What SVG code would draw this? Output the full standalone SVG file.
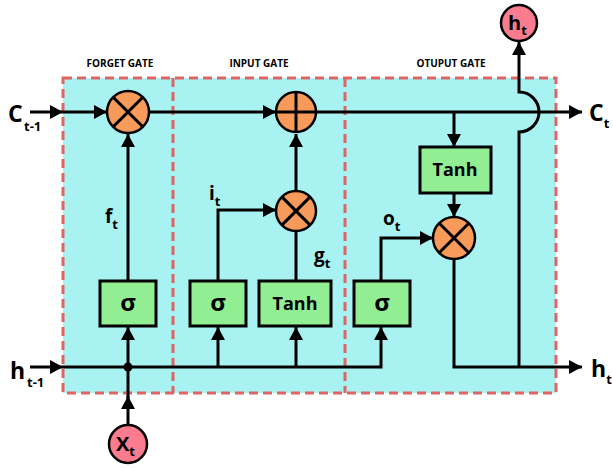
<svg xmlns="http://www.w3.org/2000/svg" width="613" height="468" viewBox="0 0 613 468">
<defs>
<marker id="arr" markerUnits="userSpaceOnUse" markerWidth="14" markerHeight="16" refX="13" refY="7" orient="auto" viewBox="0 0 14 14">
<path d="M0,0 L13,7 L0,14 z" fill="#000"/>
</marker>
<style>
.region{fill:#a9f2f2;stroke:none}
.dash{fill:none;stroke:#e06464;stroke-width:3;stroke-dasharray:9 5}
.ln{fill:none;stroke:#000;stroke-width:3}
.op{fill:#f89a5a;stroke:#000;stroke-width:2.5}
.io{fill:#fb7c8e;stroke:#000;stroke-width:2.5}
.box{fill:#92ee92;stroke:#000;stroke-width:3}
.t{font-family:"Open Sans","Liberation Sans",sans-serif;font-weight:bold;fill:#000}
.title{font-size:10px;text-anchor:middle}
.big{font-size:23px}
.sub{font-size:13px}
.boxt{text-anchor:middle}
</style>
</defs>

<g id="regions">
<rect class="region" x="63" y="78" width="493" height="315"/>
<rect class="dash" x="63" y="78" width="493" height="315"/>
<line class="dash" x1="173" y1="78" x2="173" y2="393"/>
<line class="dash" x1="345" y1="78" x2="345" y2="393"/>
<text class="t title" x="120" y="67">FORGET GATE</text>
<text class="t title" x="259" y="67">INPUT GATE</text>
<text class="t title" x="451" y="67">OTUPUT GATE</text>
</g>

<g id="connectors">
<path class="ln" d="M30,112 H63" marker-end="url(#arr)"/>
<path class="ln" d="M63,112 H107" marker-end="url(#arr)"/>
<path class="ln" d="M149,112 H276" marker-end="url(#arr)"/>
<path class="ln" d="M316,112 H582" marker-end="url(#arr)"/>
<path class="ln" d="M454,112 V147" marker-end="url(#arr)"/>
<path class="ln" d="M454,193 V217" marker-end="url(#arr)"/>
<path class="ln" d="M454,259 V367 H582" marker-end="url(#arr)"/>
<path class="ln" d="M519,367 V132 A20,20 0 0 0 519,92 V42" marker-end="url(#arr)"/>
<path class="ln" d="M30,367 H63" marker-end="url(#arr)"/>
<path class="ln" d="M63,367 H381 V327" marker-end="url(#arr)"/>
<path class="ln" d="M128,367 V327" marker-end="url(#arr)"/>
<path class="ln" d="M218,367 V327" marker-end="url(#arr)"/>
<path class="ln" d="M296,367 V327" marker-end="url(#arr)"/>
<path class="ln" d="M128,425 V396" marker-end="url(#arr)"/>
<path class="ln" d="M128,398 V367"/>
<circle cx="128" cy="367" r="4.5" fill="#000"/>
<path class="ln" d="M128,281 V134" marker-end="url(#arr)"/>
<path class="ln" d="M218,281 V210 H276" marker-end="url(#arr)"/>
<path class="ln" d="M296,281 V232"/>
<path class="ln" d="M296,191 V134" marker-end="url(#arr)"/>
<path class="ln" d="M381,281 V238 H433" marker-end="url(#arr)"/>
</g>

<g id="forget_mult">
<circle class="op" cx="128" cy="112" r="21"/>
<path class="ln" d="M113.2,97.2 L142.8,126.8 M142.8,97.2 L113.2,126.8"/>
</g>
<g id="input_add">
<circle class="op" cx="296" cy="112" r="20"/>
<path class="ln" d="M276,112 H316 M296,92 V132"/>
</g>
<g id="input_mult">
<circle class="op" cx="296" cy="211" r="20"/>
<path class="ln" d="M281.9,196.9 L310.1,225.1 M310.1,196.9 L281.9,225.1"/>
</g>
<g id="output_mult">
<circle class="op" cx="454" cy="238" r="21"/>
<path class="ln" d="M439.2,223.2 L468.8,252.8 M468.8,223.2 L439.2,252.8"/>
</g>

<g id="forget_sigma">
<rect class="box" x="100" y="281" width="56" height="45"/>
<text class="t boxt" x="128" y="311" font-size="24">σ</text>
</g>
<g id="input_sigma">
<rect class="box" x="190" y="281" width="56" height="45"/>
<text class="t boxt" x="218" y="311" font-size="24">σ</text>
</g>
<g id="input_tanh">
<rect class="box" x="259" y="281" width="72" height="45"/>
<text class="t boxt" x="295" y="310" font-size="18">Tanh</text>
</g>
<g id="output_sigma">
<rect class="box" x="354" y="281" width="56" height="45"/>
<text class="t boxt" x="382" y="311" font-size="24">σ</text>
</g>
<g id="output_tanh">
<rect class="box" x="420" y="147" width="71" height="46"/>
<text class="t boxt" x="455" y="176" font-size="18">Tanh</text>
</g>

<g id="ht_out">
<circle class="io" cx="519" cy="23" r="18"/>
<text class="t" x="508" y="30" font-size="20">h<tspan class="sub" dy="5">t</tspan></text>
</g>
<g id="xt_in">
<circle class="io" cx="128" cy="444" r="19"/>
<text class="t" x="116" y="451" font-size="20">X<tspan class="sub" dy="5">t</tspan></text>
</g>

<g id="labels">
<text class="t big" x="8" y="122">C</text>
<text class="t sub" x="24" y="131">t-1</text>
<text class="t big" x="10" y="379">h</text>
<text class="t sub" x="27" y="387">t-1</text>
<text class="t big" x="589" y="121">C<tspan class="sub" dy="7">t</tspan></text>
<text class="t big" x="591" y="377">h<tspan class="sub" dy="7">t</tspan></text>
<text class="t" x="105" y="223" font-size="19">f<tspan class="sub" dy="6">t</tspan></text>
<text class="t" x="209" y="200" font-size="19">i<tspan class="sub" dy="6">t</tspan></text>
<text class="t" x="314" y="262" font-size="19">g<tspan class="sub" dy="6">t</tspan></text>
<text class="t" x="383" y="225" font-size="19">o<tspan class="sub" dy="6">t</tspan></text>
</g>
</svg>
